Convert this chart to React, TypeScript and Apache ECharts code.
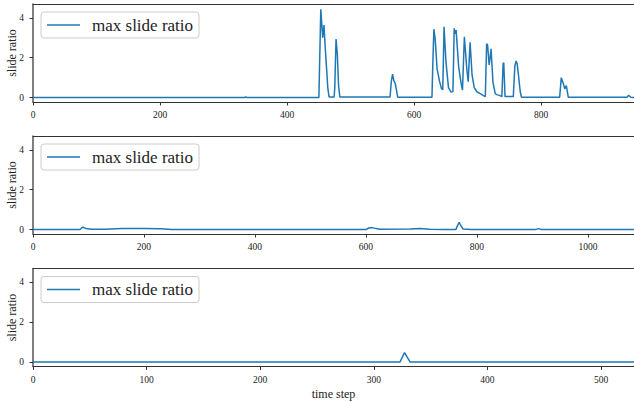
import React, { useEffect, useRef } from "react";
import * as echarts from "echarts";

const SERIES_NAME = "max slide ratio";
const Y_LABEL = "slide ratio";
const X_LABEL = "time step";

// top panel
const topT = [0, 333, 335, 337, 450, 451, 453, 456, 458, 460, 462, 464, 466, 474, 475, 477, 479, 481, 483,
  562, 564, 566, 568, 570, 572, 574, 628, 629, 631, 633, 636, 640, 643, 645, 647, 650, 654, 658, 661, 663, 664.5, 666,
  670, 673.5, 676, 679, 683, 685, 688, 691, 694.5, 699, 704, 709, 712, 714, 715.5, 718, 719.5, 721, 724, 727.5, 730,
  735, 738, 740, 741, 743, 756, 758.5, 760.5, 762, 764, 767, 769, 829, 831.5, 835, 837, 839.5, 842.5, 935, 937.5, 941, 946];
const topV = [0, 0, 0.03, 0, 0, 1.5, 4.42, 3.0, 3.63, 2.5, 1.5, 0.5, 0.03, 0.03, 0.5, 2.93, 2.2, 0.6, 0.03,
  0.03, 0.8, 1.18, 0.85, 0.72, 0.4, 0.02, 0.02, 1.3, 3.43, 2.96, 1.45, 0.8, 0.45, 0.4, 3.55, 1.8, 0.5, 0.28, 0.3, 3.47, 3.2, 3.38,
  1.55, 0.78, 0.37, 3.05, 1.37, 0.8, 2.77, 1.17, 0.5, 0.28, 0.2, 0.1, 0.05, 2.7, 2.65, 1.64, 2.0, 2.44, 0.78, 0.2, 0.15,
  0.1, 0.05, 1.7, 1.75, 0.05, 0.05, 1.6, 1.84, 1.7, 1.17, 0.28, 0.02, 0.02, 1.0, 0.68, 0.44, 0.6, 0.02, 0.02, 0.12, 0.02, 0];

// middle panel
const midT = [0, 85, 88, 90, 95, 105, 130, 160, 200, 230, 250, 300, 600, 605, 611, 618, 625, 680, 697, 715, 740,
  762, 765, 768, 771, 775, 790, 905, 911, 916, 1083];
const midV = [0, 0, 0.1, 0.12, 0.06, 0.02, 0.02, 0.05, 0.06, 0.04, 0.01, 0, 0, 0.08, 0.1, 0.05, 0.02, 0.03, 0.05, 0.02, 0,
  0, 0.2, 0.37, 0.2, 0.03, 0, 0, 0.05, 0, 0];

// bottom panel
const botT = [0, 323, 327, 332, 529];
const botV = [0, 0, 0.48, 0, 0];

const xMaxes = [946, 1083, 529];
const xTicks = [
  [0, 200, 400, 600, 800],
  [0, 200, 400, 600, 800, 1000],
  [0, 100, 200, 300, 400, 500],
];
const yTicks = [0, 2, 4];
const yMin = -0.22;
const yMax = 4.69;

const zip = (a: number[], b: number[]) => a.map((t, i) => [t, b[i]]);

export default function App() {
  const ref = useRef<HTMLDivElement>(null);
  useEffect(() => {
    if (!ref.current) return;
    const chart = echarts.init(ref.current, undefined, { renderer: "svg" });
    const FONT = "Liberation Serif";
    const gridTops = [4, 136, 268.5];
    const gridH = 98;
    const datas = [zip(topT, topV), zip(midT, midV), zip(botT, botV)];

    const grids = gridTops.map((t) => ({
      left: 33,
      right: 0,
      top: t,
      height: gridH,
      containLabel: false,
      outerBoundsMode: "none",
    }));
    const xAxes: any[] = [];
    const yAxes: any[] = [];
    const series: any[] = [];
    const legends: any[] = [];
    gridTops.forEach((t, i) => {
      xAxes.push({
        type: "value",
        gridIndex: i,
        min: 0,
        max: xMaxes[i],
        position: "bottom",
        name: i === 2 ? X_LABEL : "",
        nameLocation: "middle",
        nameGap: 21,
        nameMoveOverlap: false,
        nameTextStyle: { fontFamily: FONT, fontSize: 12, color: "#222" },
        axisLine: { show: true, onZero: false, lineStyle: { color: "#333", width: 1 } },
        axisTick: { show: true, inside: false, length: 3.5, customValues: xTicks[i], lineStyle: { color: "#333" } },
        axisLabel: {
          show: true,
          customValues: xTicks[i],
          formatter: (v: number) => String(v),
          margin: 8,
          fontFamily: FONT,
          fontSize: 9.5,
          color: "#222",
        },
        splitLine: { show: false },
      });
      xAxes.push({
        type: "value",
        gridIndex: i,
        min: 0,
        max: xMaxes[i],
        position: "top",
        axisLine: { show: true, onZero: false, lineStyle: { color: "#333", width: 1 } },
        axisTick: { show: false },
        axisLabel: { show: false },
        splitLine: { show: false },
      });
      yAxes.push({
        type: "value",
        gridIndex: i,
        min: yMin,
        max: yMax,
        name: Y_LABEL,
        nameLocation: "middle",
        nameGap: 15,
        nameMoveOverlap: false,
        nameTextStyle: { fontFamily: FONT, fontSize: 12, color: "#222" },
        axisLine: { show: true, onZero: false, lineStyle: { color: "#555", width: 1.5 } },
        axisTick: { show: true, inside: false, length: 3.5, customValues: yTicks, lineStyle: { color: "#333" } },
        axisLabel: {
          show: true,
          customValues: yTicks,
          formatter: (v: number) => String(v),
          margin: 9,
          fontFamily: FONT,
          fontSize: 9.5,
          color: "#222",
        },
        splitLine: { show: false },
      });
      series.push({
        type: "line",
        name: SERIES_NAME,
        xAxisIndex: i * 2,
        yAxisIndex: i,
        data: datas[i],
        showSymbol: false,
        symbol: "none",
        lineStyle: { color: "#1f77b4", width: 1.5 },
        itemStyle: { color: "#1f77b4" },
        silent: true,
      });
      legends.push({
        data: [{ name: SERIES_NAME, icon: "rect" }],
        left: 41,
        top: t + 8,
        orient: "vertical",
        itemWidth: 33,
        itemHeight: 1.5,
        padding: [4, 6, 4, 6],
        backgroundColor: "rgba(255,255,255,0.8)",
        borderColor: "#cccccc",
        borderWidth: 1,
        borderRadius: 3,
        selectedMode: false,
        textStyle: { fontFamily: FONT, fontSize: 17, color: "#222", padding: [0, 0, 0, 7], lineHeight: 18 },
      });
    });

    chart.setOption({
      animation: false,
      backgroundColor: "#ffffff",
      grid: grids,
      xAxis: xAxes,
      yAxis: yAxes,
      series,
      legend: legends,
    });
    return () => chart.dispose();
  }, []);
  return (
    <div
      ref={ref}
      style={{ position: "fixed", left: 0, top: 0, width: 634, height: 402, background: "#fff" }}
    />
  );
}
